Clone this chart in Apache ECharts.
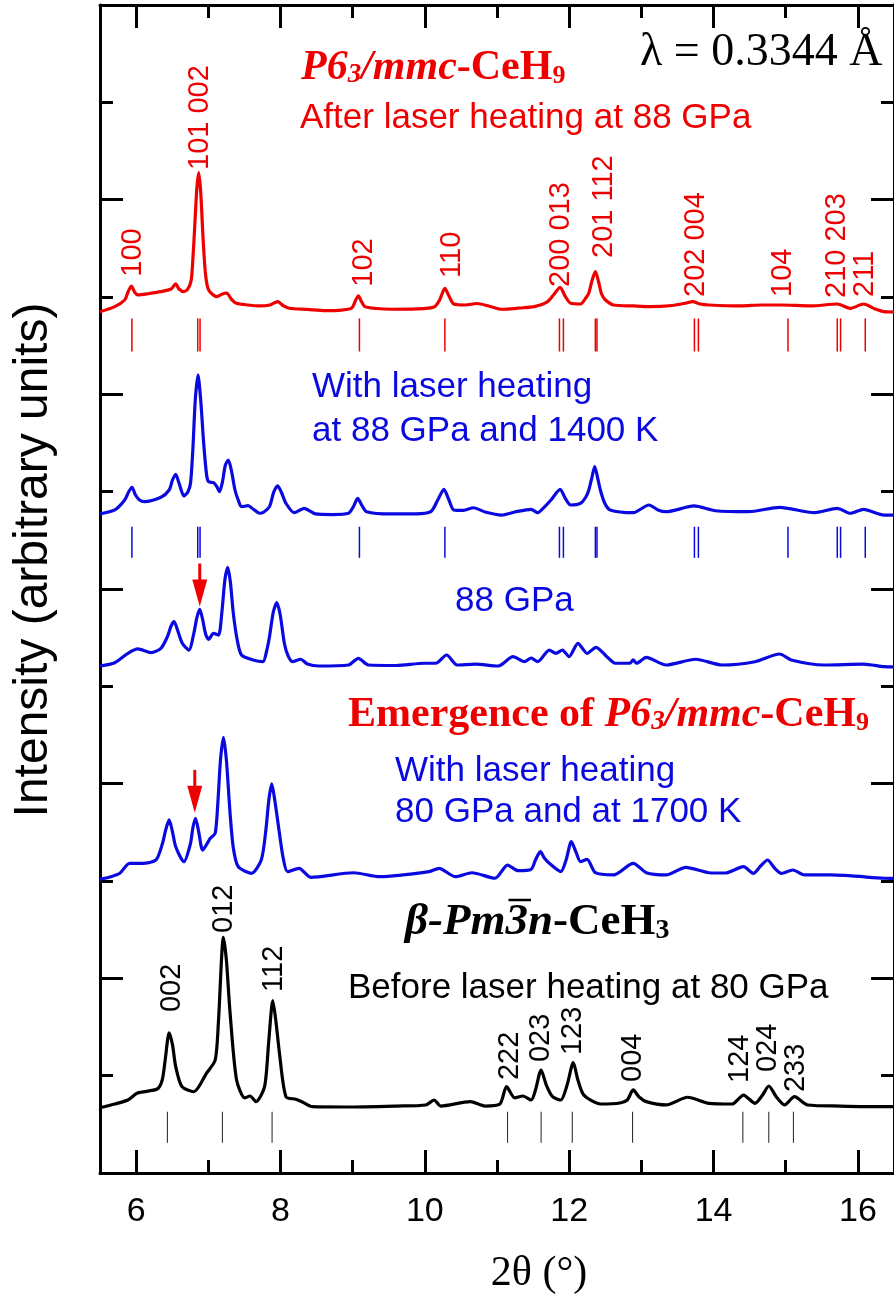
<!DOCTYPE html>
<html>
<head>
<meta charset="utf-8">
<script src="https://cdn.jsdelivr.net/npm/echarts@6/dist/echarts.min.js"></script>
<style>
  html, body { margin: 0; padding: 0; background: #fff; }
  #main { width: 894px; height: 1304px; }
</style>
</head>
<body>
<div id="main"></div>
<script>
// ---- XRD patterns, stacked with vertical offsets: [2θ (deg), intensity (offset, a.u.)] ----
const patternHeated88 = [
  [5.500, 8.849], [5.705, 8.901], [5.842, 8.969], [5.883, 9.041], [5.934, 9.113], [5.979, 9.051],
  [6.024, 9.021], [6.183, 9.036], [6.344, 9.055], [6.485, 9.082], [6.549, 9.134], [6.594, 9.082],
  [6.663, 9.055], [6.717, 9.082], [6.754, 9.144], [6.772, 9.226], [6.806, 9.637], [6.840, 10.099],
  [6.868, 10.277], [6.895, 10.079], [6.929, 9.586], [6.963, 9.226], [7.005, 9.072], [7.118, 9.003],
  [7.196, 9.031], [7.255, 9.041], [7.319, 8.979], [7.392, 8.935], [7.552, 8.918], [7.712, 8.908],
  [7.853, 8.918], [7.962, 8.952], [8.044, 8.908], [8.122, 8.884], [8.374, 8.872], [8.623, 8.859],
  [8.852, 8.866], [8.988, 8.887], [9.043, 8.969], [9.080, 9.013], [9.118, 8.959], [9.170, 8.901],
  [9.331, 8.882], [9.536, 8.874], [9.878, 8.877], [10.128, 8.897], [10.205, 8.969], [10.278, 9.089],
  [10.328, 9.021], [10.401, 8.928], [10.561, 8.918], [10.722, 8.933], [10.904, 8.903], [11.064, 8.874],
  [11.314, 8.887], [11.519, 8.901], [11.701, 8.952], [11.793, 9.031], [11.875, 9.100], [11.943, 9.010],
  [12.021, 8.935], [12.158, 8.928], [12.230, 8.990], [12.272, 9.041], [12.319, 9.175], [12.363, 9.260],
  [12.408, 9.154], [12.449, 9.031], [12.503, 8.969], [12.614, 8.918], [12.887, 8.908], [13.115, 8.901],
  [13.430, 8.913], [13.622, 8.938], [13.708, 8.952], [13.817, 8.928], [13.936, 8.918], [14.388, 8.908],
  [14.661, 8.918], [14.934, 8.918], [15.345, 8.908], [15.714, 8.928], [15.897, 8.884], [16.079, 8.928],
  [16.240, 8.877], [16.362, 8.849], [16.500, 8.846]
];

const patternHeating1400K = [
  [5.500, 6.771], [5.705, 6.812], [5.842, 6.914], [5.897, 6.997], [5.942, 7.045], [5.992, 6.966],
  [6.047, 6.914], [6.116, 6.897], [6.344, 6.942], [6.458, 7.017], [6.505, 7.120], [6.549, 7.178],
  [6.594, 7.089], [6.663, 6.955], [6.717, 6.997], [6.754, 7.086], [6.786, 7.428], [6.820, 7.942],
  [6.858, 8.199], [6.895, 7.942], [6.936, 7.500], [6.977, 7.171], [7.005, 7.102], [7.073, 7.092],
  [7.114, 7.058], [7.155, 7.000], [7.196, 7.099], [7.237, 7.274], [7.278, 7.325], [7.319, 7.223],
  [7.370, 7.017], [7.415, 6.914], [7.460, 6.846], [7.552, 6.856], [7.620, 6.822], [7.712, 6.778],
  [7.771, 6.791], [7.848, 6.846], [7.908, 6.997], [7.962, 7.061], [8.017, 6.986], [8.076, 6.881],
  [8.191, 6.784], [8.328, 6.829], [8.486, 6.771], [8.715, 6.765], [8.943, 6.778], [9.016, 6.853],
  [9.070, 6.932], [9.125, 6.863], [9.194, 6.794], [9.536, 6.771], [9.878, 6.771], [10.083, 6.794],
  [10.179, 6.914], [10.265, 7.024], [10.329, 6.925], [10.401, 6.812], [10.534, 6.807], [10.675, 6.835],
  [10.835, 6.791], [11.064, 6.760], [11.246, 6.791], [11.473, 6.819], [11.564, 6.784], [11.656, 6.842],
  [11.748, 6.914], [11.875, 7.024], [11.943, 6.935], [12.021, 6.863], [12.158, 6.881], [12.231, 6.945],
  [12.272, 7.017], [12.313, 7.140], [12.354, 7.257], [12.395, 7.140], [12.432, 7.017], [12.491, 6.884],
  [12.568, 6.812], [12.887, 6.784], [13.106, 6.863], [13.229, 6.812], [13.343, 6.794], [13.731, 6.853],
  [14.027, 6.804], [14.483, 6.794], [14.916, 6.839], [15.394, 6.784], [15.714, 6.829], [15.897, 6.778],
  [16.079, 6.819], [16.362, 6.760], [16.500, 6.760]
];

const pattern88GPa = [
  [5.500, 5.209], [5.705, 5.243], [5.887, 5.339], [6.024, 5.384], [6.207, 5.346], [6.344, 5.391],
  [6.434, 5.510], [6.485, 5.620], [6.526, 5.664], [6.574, 5.579], [6.640, 5.442], [6.731, 5.373],
  [6.800, 5.545], [6.841, 5.702], [6.882, 5.791], [6.923, 5.682], [6.963, 5.538], [7.005, 5.483],
  [7.073, 5.545], [7.142, 5.527], [7.187, 5.750], [7.230, 6.092], [7.269, 6.223], [7.306, 6.072],
  [7.347, 5.750], [7.401, 5.476], [7.460, 5.322], [7.620, 5.271], [7.757, 5.253], [7.805, 5.353],
  [7.848, 5.510], [7.901, 5.764], [7.949, 5.859], [7.997, 5.733], [8.054, 5.442], [8.106, 5.312],
  [8.168, 5.253], [8.281, 5.278], [8.373, 5.229], [8.533, 5.209], [8.943, 5.219], [9.080, 5.288],
  [9.217, 5.219], [9.604, 5.214], [9.991, 5.237], [10.151, 5.237], [10.302, 5.322], [10.448, 5.219],
  [10.698, 5.229], [11.017, 5.209], [11.222, 5.305], [11.382, 5.253], [11.473, 5.291], [11.564, 5.253],
  [11.724, 5.373], [11.816, 5.339], [11.906, 5.373], [11.998, 5.305], [12.121, 5.442], [12.248, 5.339],
  [12.372, 5.401], [12.522, 5.305], [12.637, 5.237], [12.841, 5.237], [12.887, 5.271], [12.932, 5.237],
  [13.069, 5.298], [13.343, 5.219], [13.753, 5.278], [14.118, 5.219], [14.574, 5.253], [14.916, 5.332],
  [15.076, 5.271], [15.531, 5.219], [16.079, 5.229], [16.362, 5.202], [16.500, 5.199]
];

const patternHeating1700K = [
  [5.500, 3.017], [5.637, 3.041], [5.774, 3.079], [5.910, 3.182], [6.092, 3.182], [6.276, 3.216],
  [6.366, 3.387], [6.410, 3.524], [6.458, 3.627], [6.505, 3.503], [6.549, 3.352], [6.663, 3.198],
  [6.754, 3.387], [6.786, 3.545], [6.823, 3.644], [6.868, 3.503], [6.923, 3.318], [7.028, 3.439],
  [7.096, 3.490], [7.135, 3.832], [7.169, 4.243], [7.210, 4.476], [7.251, 4.243], [7.302, 3.696],
  [7.347, 3.339], [7.415, 3.147], [7.597, 3.079], [7.734, 3.216], [7.798, 3.524], [7.839, 3.832],
  [7.880, 3.997], [7.921, 3.832], [7.986, 3.490], [8.038, 3.236], [8.099, 3.096], [8.259, 3.130],
  [8.418, 3.038], [9.012, 3.085], [9.376, 3.044], [10.060, 3.096], [10.196, 3.130], [10.425, 3.044],
  [10.653, 3.085], [10.972, 3.028], [11.146, 3.164], [11.291, 3.106], [11.473, 3.120], [11.533, 3.216],
  [11.601, 3.301], [11.656, 3.236], [11.724, 3.182], [11.884, 3.096], [11.957, 3.216], [12.030, 3.404],
  [12.094, 3.298], [12.158, 3.198], [12.248, 3.223], [12.363, 3.085], [12.614, 3.062], [12.887, 3.182],
  [13.069, 3.085], [13.343, 3.062], [13.616, 3.141], [13.936, 3.085], [14.164, 3.082], [14.415, 3.147],
  [14.552, 3.079], [14.652, 3.154], [14.748, 3.216], [14.843, 3.134], [14.939, 3.079], [15.099, 3.113],
  [15.258, 3.062], [15.623, 3.062], [16.362, 3.028], [16.500, 3.026]
];

const patternCeH3 = [
  [5.500, 0.671], [5.705, 0.709], [5.887, 0.750], [6.020, 0.822], [6.293, 0.863], [6.362, 0.955],
  [6.403, 1.161], [6.458, 1.441], [6.505, 1.315], [6.549, 1.092], [6.635, 0.887], [6.800, 0.835],
  [6.977, 1.027], [7.096, 1.161], [7.142, 1.572], [7.210, 2.422], [7.251, 2.188], [7.302, 1.644],
  [7.392, 0.955], [7.507, 0.771], [7.579, 0.791], [7.661, 0.733], [7.780, 0.887], [7.839, 1.366],
  [7.894, 1.770], [7.935, 1.572], [7.986, 1.233], [8.076, 0.784], [8.213, 0.757], [8.304, 0.729],
  [8.441, 0.681], [8.920, 0.678], [9.604, 0.688], [10.014, 0.699], [10.128, 0.750], [10.220, 0.688],
  [10.630, 0.733], [10.835, 0.688], [11.040, 0.709], [11.132, 0.887], [11.246, 0.771], [11.359, 0.791],
  [11.473, 0.750], [11.533, 0.853], [11.611, 1.058], [11.683, 0.904], [11.770, 0.784], [11.884, 0.750],
  [11.971, 0.904], [12.057, 1.133], [12.121, 0.955], [12.203, 0.801], [12.432, 0.709], [12.705, 0.719],
  [12.805, 0.750], [12.887, 0.853], [12.969, 0.781], [13.069, 0.733], [13.343, 0.699], [13.640, 0.778],
  [13.936, 0.716], [14.255, 0.709], [14.415, 0.801], [14.574, 0.716], [14.679, 0.801], [14.765, 0.894],
  [14.871, 0.781], [14.984, 0.699], [15.121, 0.784], [15.305, 0.699], [15.760, 0.688], [16.362, 0.681],
  [16.500, 0.681]
];

// ---- Calculated reflection positions (2θ, deg) ----
const reflP63mmc = [5.942, 6.854, 6.886, 9.094, 10.278, 11.865, 11.920, 12.363, 12.385,
                    13.735, 13.790, 15.031, 15.714, 15.760, 16.102];
const reflPm3n = [6.434, 7.196, 7.884, 11.146, 11.611, 12.043, 12.878, 14.406, 14.765, 15.107];

// ---- Miller-index labels: [2θ, intensity at label start, text] ----
const hklP63mmc = [
  [5.956, 9.209, '100'], [6.891, 10.305, '101 002'], [9.159, 9.106, '102'], [10.370, 9.196, '110'],
  [11.884, 9.103, '200 013'], [12.477, 9.401, '201 112'], [13.763, 9.000, '202 004'],
  [14.962, 9.000, '104'], [15.705, 8.990, '210 203'], [16.102, 9.000, '211']
];
const hklPm3n = [
  [6.499, 1.654, '002'], [7.224, 2.466, '012'], [7.915, 1.860, '112'], [11.177, 0.955, '222'],
  [11.611, 1.140, '023'], [12.053, 1.212, '123'], [12.887, 0.935, '004'], [14.365, 0.925, '124'],
  [14.748, 1.038, '024'], [15.145, 0.832, '233']
];

// ---- Arrows marking the emerging P6₃/mmc peak: [2θ, arrow tip intensity] ----
const emergingPeak = [[6.882, 5.82], [6.813, 3.70]];

// ---- Axis ticks ----
const xMajorTicks = [6, 8, 10, 12, 14, 16];
const xMinorTicks = [7, 9, 11, 13, 15];

const RED = '#ee0000';
const BLUE = '#0a0ae0';
const BLACK = '#000000';
const SANS = '"Liberation Sans", Arial, sans-serif';
const SERIF = '"Liberation Serif", "Times New Roman", serif';

const X_RANGE = [5.5, 16.5];
const Y_RANGE = [0, 12];
const STICKS_RED = [8.44, 8.78];
const STICKS_BLUE = [6.32, 6.64];
const STICKS_BLACK = [0.31, 0.63];

const chart = echarts.init(document.getElementById('main'));

function stickSeries(name, positions, range, color, width) {
  return {
    name, type: 'custom', xAxisIndex: 0, yAxisIndex: 0, z: 3,
    data: positions.map(v => [v]),
    renderItem: (params, api) => {
      const x = api.value(0);
      const a = api.coord([x, range[0]]);
      const b = api.coord([x, range[1]]);
      return { type: 'line', shape: { x1: a[0], y1: a[1], x2: b[0], y2: b[1] },
               style: { stroke: color, lineWidth: width } };
    }
  };
}

function hklSeries(name, labels, color) {
  return {
    name, type: 'custom', xAxisIndex: 0, yAxisIndex: 0, z: 5,
    data: labels,
    renderItem: (params, api) => {
      const p = api.coord([api.value(0), api.value(1)]);
      return { type: 'text', x: p[0], y: p[1], rotation: Math.PI / 2,
               style: { text: labels[params.dataIndex][2], fill: color,
                        font: '29px ' + SANS, align: 'left', verticalAlign: 'middle' } };
    }
  };
}

function pattern(name, data, color) {
  return {
    name, type: 'line', data, xAxisIndex: 0, yAxisIndex: 0, z: 4,
    showSymbol: false, smooth: 0.25,
    lineStyle: { color, width: 3.2, join: 'round' }
  };
}

const axisLineStyle = { color: BLACK, width: 3 };
function xAxisDef(position, ticks, len, showLine, showLabel) {
  return {
    type: 'value', min: X_RANGE[0], max: X_RANGE[1], position,
    axisLine: { show: showLine, onZero: false, lineStyle: axisLineStyle },
    axisTick: { show: true, inside: true, length: len, customValues: ticks,
                lineStyle: { color: BLACK, width: 3 } },
    axisLabel: { show: showLabel, customValues: ticks, color: BLACK, fontSize: 34,
                 fontFamily: SANS, margin: 22 },
    splitLine: { show: false }
  };
}
function yAxisDef(position) {
  return {
    type: 'value', min: Y_RANGE[0], max: Y_RANGE[1], interval: 2, position,
    axisLine: { show: true, onZero: false, lineStyle: axisLineStyle },
    axisTick: { show: true, inside: true, length: 23, lineStyle: { color: BLACK, width: 3 } },
    minorTick: { show: true, splitNumber: 2, length: 13, lineStyle: { color: BLACK, width: 3 } },
    axisLabel: { show: false },
    splitLine: { show: false }, minorSplitLine: { show: false }
  };
}

// Rich-text styles for the phase names (Times bold / bold italic with small indices)
function phaseRich(color, size) {
  const base = { fontFamily: SERIF, fontWeight: 'bold', fill: color, fontSize: size,
                 lineHeight: size, verticalAlign: 'bottom' };
  return {
    b: Object.assign({}, base),
    bi: Object.assign({}, base, { fontStyle: 'italic' }),
    si: Object.assign({}, base, { fontStyle: 'italic', fontSize: Math.round(size * 0.64),
                                  lineHeight: Math.round(size * 0.5) }),
    s: Object.assign({}, base, { fontSize: Math.round(size * 0.62), lineHeight: Math.round(size * 0.74) })
  };
}

function sansText(x, y, text, color) {
  return { type: 'text', x, y, z: 10,
           style: { text, fill: color, font: '35px ' + SANS, align: 'left', verticalAlign: 'middle' } };
}

// Overline on the "3" of Pm-3n, positioned from the measured text widths
const BETA_SIZE = 45;
const measureCtx = document.createElement('canvas').getContext('2d');
measureCtx.font = 'italic bold ' + BETA_SIZE + 'px ' + SERIF;
const betaX = 405;
const barStart = betaX + measureCtx.measureText('β-Pm').width;
const barEnd = barStart + measureCtx.measureText('3').width;

const graphics = [
  { type: 'text', x: 301, y: 68, z: 10,
    style: { text: '{bi|P6}{si|3}{bi|/mmc}{b|-CeH}{s|9}', rich: phaseRich(RED, 42),
             align: 'left', verticalAlign: 'middle' } },
  sansText(300, 118, 'After laser heating at 88 GPa', RED),
  { type: 'text', x: 640, y: 53, z: 10,
    style: { text: 'λ = 0.3344 Å', fill: BLACK, font: '46px ' + SERIF,
             align: 'left', verticalAlign: 'middle' } },
  sansText(312, 387, 'With laser heating', BLUE),
  sansText(312, 431, 'at 88 GPa and 1400 K', BLUE),
  sansText(455, 601, '88 GPa', BLUE),
  { type: 'text', x: 348, y: 715, z: 10,
    style: { text: '{b|Emergence of }{bi|P6}{si|3}{bi|/mmc}{b|-CeH}{s|9}', rich: phaseRich(RED, 42),
             align: 'left', verticalAlign: 'middle' } },
  sansText(395, 771, 'With laser heating', BLUE),
  sansText(395, 812, '80 GPa and at 1700 K', BLUE),
  { type: 'text', x: betaX, y: 922, z: 10,
    style: { text: '{bi|β-Pm3n}{b|-CeH}{s|3}', rich: phaseRich(BLACK, BETA_SIZE),
             align: 'left', verticalAlign: 'middle' } },
  { type: 'line', z: 10, shape: { x1: barStart + 3, y1: 900, x2: barEnd + 3, y2: 900 },
    style: { stroke: BLACK, lineWidth: 2.5 } },
  sansText(348, 988, 'Before laser heating at 80 GPa', BLACK),
  { type: 'text', x: 34, y: 560, rotation: Math.PI / 2, z: 10,
    style: { text: 'Intensity (arbitrary units)', fill: BLACK, font: '48px ' + SANS,
             align: 'center', verticalAlign: 'middle' } },
  { type: 'text', x: 539, y: 1274, z: 10,
    style: { text: '2θ (°)', fill: BLACK, font: '42px ' + SERIF,
             align: 'center', verticalAlign: 'middle' } }
];

chart.setOption({
  animation: false,
  backgroundColor: '#ffffff',
  grid: { left: 100, top: 5, right: -9, bottom: 131, containLabel: false },
  xAxis: [
    xAxisDef('bottom', xMajorTicks, 23, true, true),
    xAxisDef('bottom', xMinorTicks, 13, false, false),
    xAxisDef('top', xMajorTicks, 23, true, false),
    xAxisDef('top', xMinorTicks, 13, false, false)
  ],
  yAxis: [yAxisDef('left'), yAxisDef('right')],
  series: [
    pattern('P63/mmc-CeH9 after heating, 88 GPa', patternHeated88, RED),
    pattern('Heating at 88 GPa, 1400 K', patternHeating1400K, BLUE),
    pattern('88 GPa', pattern88GPa, BLUE),
    pattern('Heating at 80 GPa, 1700 K', patternHeating1700K, BLUE),
    pattern('beta-Pm-3n-CeH3, 80 GPa', patternCeH3, BLACK),
    stickSeries('P63/mmc reflections (upper)', reflP63mmc, STICKS_RED, RED, 1.5),
    stickSeries('P63/mmc reflections (lower)', reflP63mmc, STICKS_BLUE, BLUE, 1.5),
    stickSeries('Pm-3n reflections', reflPm3n, STICKS_BLACK, '#333333', 1.1),
    hklSeries('P63/mmc hkl', hklP63mmc, RED),
    hklSeries('Pm-3n hkl', hklPm3n, BLACK),
    {
      name: 'Emerging peak', type: 'custom', xAxisIndex: 0, yAxisIndex: 0, z: 6,
      data: emergingPeak,
      renderItem: (params, api) => {
        const p = api.coord([api.value(0), api.value(1)]);
        return { type: 'group', children: [
          { type: 'rect', shape: { x: p[0] - 1.5, y: p[1] - 43, width: 3, height: 17 },
            style: { fill: RED } },
          { type: 'polygon', shape: { points: [[p[0] - 7.5, p[1] - 27], [p[0] + 7.5, p[1] - 27], [p[0], p[1]]] },
            style: { fill: RED } }
        ] };
      }
    }
  ],
  graphic: graphics
});
</script>
</body>
</html>
